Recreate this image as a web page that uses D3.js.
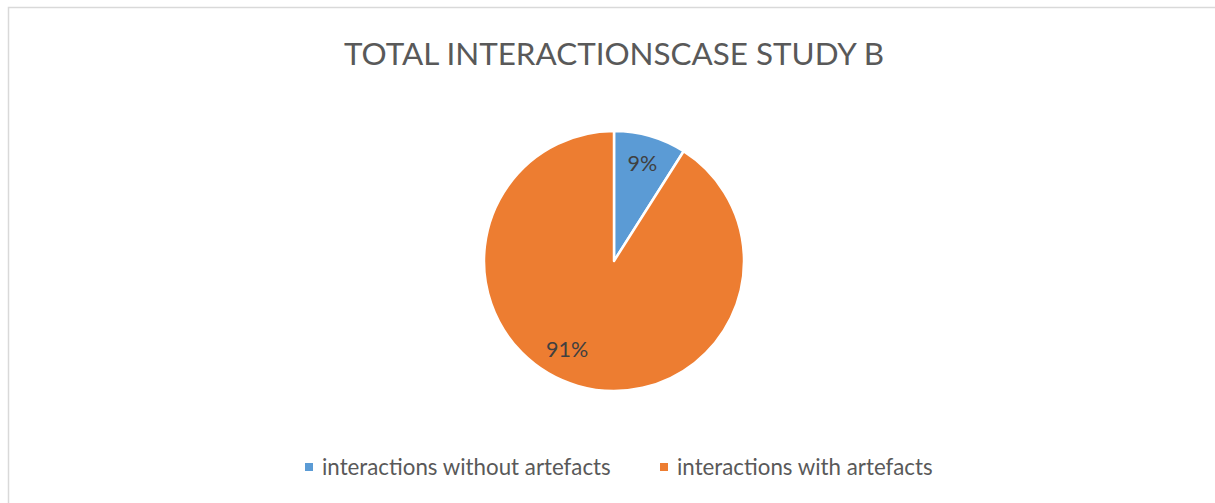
<!DOCTYPE html>
<html>
<head>
<meta charset="utf-8">
<script src="https://cdn.jsdelivr.net/npm/d3@7"></script>
<style>
  html, body { margin: 0; padding: 0; background: #fff; }
  svg { display: block; }
</style>
</head>
<body>
<svg id="chart" width="1215" height="503"></svg>
<script>
const title = "TOTAL INTERACTIONSCASE STUDY B";
const categories = ["interactions without artefacts", "interactions with artefacts"];
const values = [9, 91];
const colors = ["#5b9bd5", "#ed7d31"];

const svg = d3.select("#chart");
const W = 1215, H = 503;
const font = "Lato, 'Open Sans', sans-serif";

// chart area border
svg.append("rect")
  .attr("x", 8.5).attr("y", 7.5)
  .attr("width", W + 10).attr("height", H + 10)
  .attr("fill", "#fff").attr("stroke", "#d9d9d9").attr("stroke-width", 1.5);

// title
svg.append("text")
  .attr("x", 614).attr("y", 65)
  .attr("text-anchor", "middle")
  .attr("font-family", font).attr("font-size", 31.4)
  .attr("fill", "#595959")
  .text(title);

const cx = 614, cy = 261, R = 130;
const pie = d3.pie().sort(null).value(d => d)(values);
const arc = d3.arc().innerRadius(0).outerRadius(R);
const g = svg.append("g").attr("transform", `translate(${cx},${cy})`);

g.selectAll("path").data(pie).enter().append("path")
  .attr("d", arc)
  .attr("fill", (d, i) => colors[i])
  .attr("stroke", "#fff").attr("stroke-width", 2.5).attr("stroke-linejoin", "round");

const total = d3.sum(values);
g.selectAll("text.lbl").data(pie).enter().append("text")
  .attr("class", "lbl")
  .attr("transform", (d, i) => {
    const c = d3.arc().innerRadius(0).outerRadius(i === 0 ? R * 1.56 : R * 1.42).centroid(d);
    return `translate(${c[0]},${c[1]})`;
  })
  .attr("text-anchor", (d, i) => i === 0 ? "middle" : "end")
  .attr("dy", "0.35em")
  .attr("font-family", font).attr("font-size", 21.5)
  .attr("fill", "#404040")
  .text(d => Math.round(d.data / total * 100) + "%");

// legend
const legendX = [305, 660];
const leg = svg.append("g");
categories.forEach((c, i) => {
  leg.append("rect")
    .attr("x", legendX[i]).attr("y", 463)
    .attr("width", 8).attr("height", 8)
    .attr("fill", colors[i]);
  leg.append("text")
    .attr("x", legendX[i] + 17).attr("y", 475)
    .attr("font-family", font).attr("font-size", 22.3)
    .attr("fill", "#595959")
    .text(c);
});
</script>
</body>
</html>
